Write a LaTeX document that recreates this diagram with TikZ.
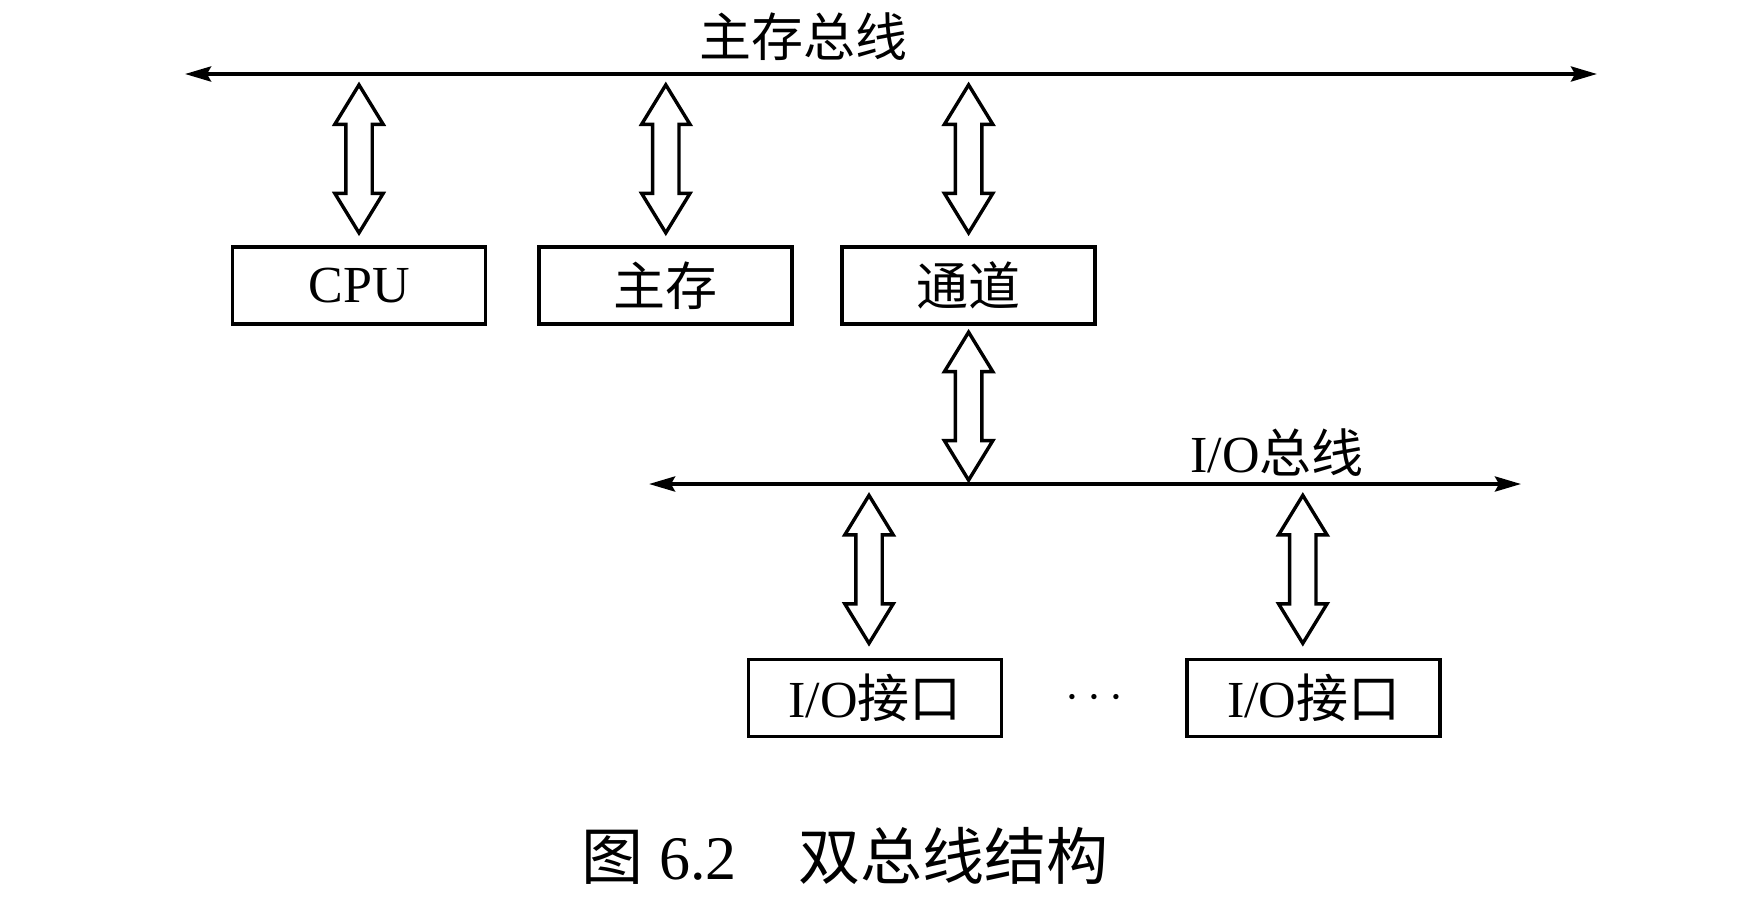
\documentclass[tikz,border=0pt]{standalone}
\usepackage{fontspec}
\setmainfont{Liberation Serif}
\newfontfamily\cjk{Noto Sans CJK SC}
\usetikzlibrary{positioning,calc,arrows.meta,shapes.arrows}

\begin{document}
\begin{tikzpicture}[x=0.5pt,y=-0.5pt,font=\fontsize{26}{30}\selectfont,
    box/.style={draw,line width=1.9pt,minimum width=126.5pt,minimum height=38.5pt,inner sep=0pt},
    bus/.style={line width=1.9pt,{Stealth[length=13pt,width=7.5pt,inset=2pt]}-{Stealth[length=13pt,width=7.5pt,inset=2pt]}},
    dbl/.style={draw,line width=1.7pt,shape=double arrow,rotate=90,minimum height=74pt,minimum width=22.5pt,
      inner xsep=0pt,inner ysep=5.75pt,double arrow head extend=5.5pt,double arrow tip angle=63,double arrow head indent=0pt}]
  \useasboundingbox (0,0) rectangle (1754,906);
  % buses
  \coordinate (m1) at (185,74);
  \coordinate (m2) at (1597,74);
  \coordinate (s1) at (649,484);
  \coordinate (s2) at (1521,484);
  \draw[bus] (m1) -- (m2);
  \draw[bus] (s1) -- (s2);
  \node (mt) at (803,37) {\cjk 主存总线};
  \node (st) at (1277,453) {I/O{\cjk 总线}};
  % modules
  \node[box] (cpu) at (359,285.5) {CPU};
  \node[box,right=25pt of cpu] (mem) {\cjk 主存};
  \node[box,right=23pt of mem] (ch) {\cjk 通道};
  \node[box] (io1) at (875,698) {I/O{\cjk 接口}};
  \node[box,right=91pt of io1] (io2) {I/O{\cjk 接口}};
  \node (dots) at ($(io1)!.5!(io2)$) {\fontsize{30}{34}\selectfont$\cdots$};
  % links
  \node[dbl,anchor=west] (l1) at ([yshift=4.5pt]cpu.north) {};
  \node[dbl,anchor=west] (l2) at ([yshift=4.5pt]mem.north) {};
  \node[dbl,anchor=west] (l3) at ([yshift=4.5pt]ch.north) {};
  \node[dbl,anchor=east] (l4) at ([yshift=-1.5pt]ch.south) {};
  \node[dbl,anchor=west] (l5) at ([xshift=-3pt,yshift=5.5pt]io1.north) {};
  \node[dbl,anchor=west] (l6) at ([xshift=-5.5pt,yshift=5.5pt]io2.north) {};
  \node (cap) at (845,856) {\fontsize{31}{36}\selectfont{\cjk 图}\ 6.2\hspace{1em}{\cjk 双总线结构}};
\end{tikzpicture}
\end{document}
